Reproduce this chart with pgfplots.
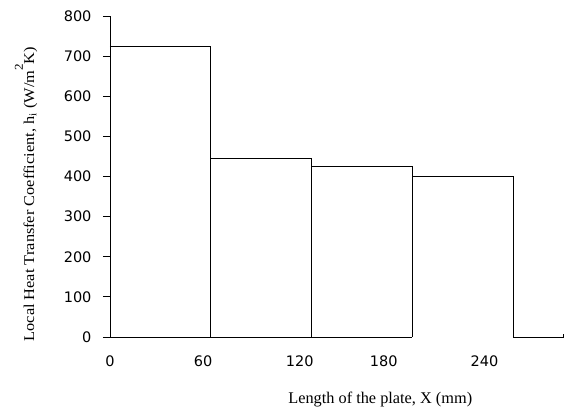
\documentclass[border=0pt]{standalone}
\usepackage{fontspec}
\setmainfont{Liberation Serif}
\newfontfamily\dejavu{DejaVu Sans}
\usepackage{graphicx}
\usepackage{pgfplots}
\pgfplotsset{compat=1.18}
\begin{document}
\begin{tikzpicture}
\begin{axis}[
  at={(0pt,0pt)}, anchor=south west,
  scale only axis, width=453.5pt, height=321pt,
  xmin=0, xmax=270, ymin=0, ymax=800,
  separate axis lines,
  axis x line*=bottom, axis y line*=left,
  x axis line style={draw=none},
  y axis line style={black, line width=0.75pt},
  xtick={0,55.4,113,163,223},
  xticklabels={0,60,120,180,240},
  xtick style={draw=none},
  ytick={0,100,...,800},
  tick align=outside,
  ytick style={black, line width=0.75pt},
  major tick length=7pt,
  /pgf/number format/assume math mode=true,
  tick label style={font=\dejavu\fontsize{14.5}{16}\selectfont},
  xticklabel style={anchor=base, yshift=-23pt},
  yticklabel style={anchor=east, xshift=-8pt},
  every axis x label/.style={at={(axis description cs:0.596,-0.196)}, anchor=center},
  every axis y label/.style={at={(axis description cs:-0.185,0.445)}, rotate=90, anchor=center},
  xlabel={\fontsize{16.3}{18}\selectfont Length of the plate, X (mm)},
  ylabel={\scalebox{1.09}[1]{\fontsize{15}{17}\selectfont Local Heat Transfer Coefficient, h\textsubscript{i} (W/m\raisebox{0.75em}{\fontsize{12}{13}\selectfont 2}K)}},
  clip=false,
]
\addplot[black, line width=0.75pt] coordinates {(0,724)(60,724)(60,444)(120,444)(120,424)(180,424)(180,400)(240,400)(240,0)(270,0)(270,8)};
\addplot[black, line width=0.75pt] coordinates {(0,0)(180,0)};
\addplot[black, line width=0.75pt] coordinates {(60,444)(60,0)};
\addplot[black, line width=0.75pt] coordinates {(120,424)(120,0)};
\addplot[black, line width=0.75pt] coordinates {(180,400)(180,0)};
\end{axis}
\pgfresetboundingbox
\useasboundingbox (-110pt,-75pt) rectangle (455pt,337pt);
\end{tikzpicture}
\end{document}
